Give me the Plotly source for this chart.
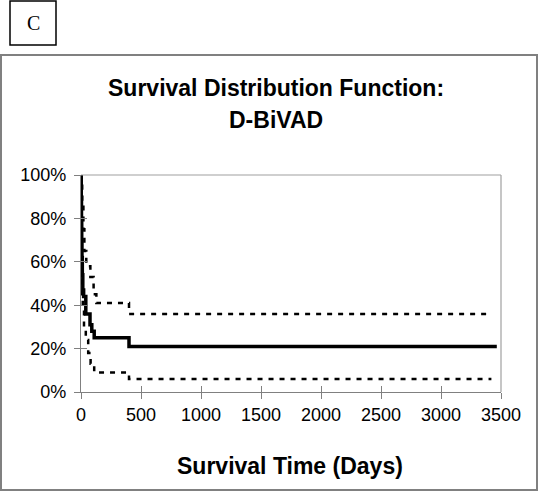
import plotly.graph_objects as go

# Survival estimate (days, proportion surviving)
surv_days = [0, 2, 4, 6, 8, 11, 15, 22, 40, 75, 90, 110, 400, 3465]
surv_vals = [1.00, 0.90, 0.80, 0.70, 0.62, 0.54, 0.47, 0.44, 0.36, 0.31, 0.28, 0.25, 0.21, 0.21]

# Upper confidence bound
upper_days = [0, 5, 10, 20, 28, 44, 78, 105, 128, 400, 3420]
upper_vals = [1.00, 0.95, 0.88, 0.75, 0.65, 0.58, 0.53, 0.45, 0.41, 0.36, 0.36]

# Lower confidence bound
lower_days = [0, 2, 4, 6, 8, 15, 25, 40, 60, 80, 110, 400, 3420]
lower_vals = [0.97, 0.80, 0.65, 0.52, 0.45, 0.38, 0.30, 0.24, 0.18, 0.13, 0.09, 0.06, 0.06]

x_ticks = [0, 500, 1000, 1500, 2000, 2500, 3000, 3500]
y_ticks = [0, 0.2, 0.4, 0.6, 0.8, 1.0]
y_tick_labels = ["0%", "20%", "40%", "60%", "80%", "100%"]

FONT = "Liberation Sans, Arial, sans-serif"
W, H = 540, 493
L, R, T, B = 81, 39, 175, 101
PW, PH = W - L - R, H - T - B


def px(x):
    return (x - L) / PW


def py(y):
    return (H - B - y) / PH


fig = go.Figure()
dash_style = dict(color="black", width=2.5, dash="5px,6px", shape="hv")
fig.add_trace(go.Scatter(x=upper_days, y=upper_vals, mode="lines", line=dash_style,
                         showlegend=False, hoverinfo="skip"))
fig.add_trace(go.Scatter(x=lower_days, y=lower_vals, mode="lines", line=dash_style,
                         showlegend=False, hoverinfo="skip"))
fig.add_trace(go.Scatter(x=surv_days, y=surv_vals, mode="lines",
                         line=dict(color="black", width=3.5, shape="hv"),
                         showlegend=False))

axis_common = dict(showgrid=False, zeroline=False, linecolor="#808080", linewidth=1.2,
                   tickcolor="#808080", tickwidth=1.2, ticklen=6, automargin=False)

fig.update_layout(
    width=W, height=H,
    margin=dict(l=L, r=R, t=T, b=B, autoexpand=False),
    paper_bgcolor="white", plot_bgcolor="white",
    font=dict(family=FONT, color="black"),
    xaxis=dict(range=[0, 3500], tickvals=x_ticks, ticks="outside", showline=True,
               tickfont=dict(size=18, family=FONT), **axis_common),
    yaxis=dict(range=[0, 1.0], tickvals=y_ticks, ticktext=y_tick_labels, ticks="outside",
               showline=True, tickfont=dict(size=18, family=FONT), ticklabelstandoff=4,
               **axis_common),
    xaxis2=dict(range=[0, 3500], tickvals=x_ticks, ticks="inside", showticklabels=False,
                overlaying="x", side="bottom", showline=False, **axis_common),
    yaxis2=dict(range=[0, 1.0], tickvals=y_ticks, ticks="inside", showticklabels=False,
                overlaying="y", side="left", showline=False, **axis_common),
)
# invisible trace to activate the inside-tick overlay axes
fig.add_trace(go.Scatter(x=[0], y=[0], xaxis="x2", yaxis="y2", mode="markers",
                         marker=dict(opacity=0), showlegend=False, hoverinfo="skip"))

# plot area border (top and right, light gray)
fig.add_shape(type="line", xref="x domain", yref="y domain", x0=0, x1=1, y0=1, y1=1,
              line=dict(color="#a0a0a0", width=1.2))
fig.add_shape(type="line", xref="x domain", yref="y domain", x0=1, x1=1, y0=0, y1=1,
              line=dict(color="#a0a0a0", width=1.2))

# outer chart frame
fig.add_shape(type="rect", xref="paper", yref="paper",
              x0=px(1), x1=px(537), y0=py(490), y1=py(55),
              line=dict(color="#808080", width=2), layer="below")

# panel label box
fig.add_shape(type="rect", xref="paper", yref="paper",
              x0=px(10), x1=px(56), y0=py(45), y1=py(1),
              line=dict(color="black", width=1.5))

fig.add_annotation(text="C", xref="paper", yref="paper",
                   x=px(33), y=py(23), showarrow=False,
                   xanchor="center", yanchor="middle",
                   font=dict(family="Liberation Serif, Times New Roman, serif", size=20))

fig.add_annotation(text="<b>Survival Distribution Function:</b>", xref="paper", yref="paper",
                   x=px(276), y=py(88), showarrow=False,
                   xanchor="center", yanchor="middle", font=dict(size=23, family=FONT))
fig.add_annotation(text="<b>D-BiVAD</b>", xref="paper", yref="paper",
                   x=px(276), y=py(120), showarrow=False,
                   xanchor="center", yanchor="middle", font=dict(size=23, family=FONT))
fig.add_annotation(text="<b>Survival Time (Days)</b>", xref="paper", yref="paper",
                   x=px(290), y=py(466), showarrow=False,
                   xanchor="center", yanchor="middle", font=dict(size=23, family=FONT))

fig.write_html("out.html", config={"displayModeBar": False},
               post_script="document.body.style.margin='0';document.body.style.padding='0';")
